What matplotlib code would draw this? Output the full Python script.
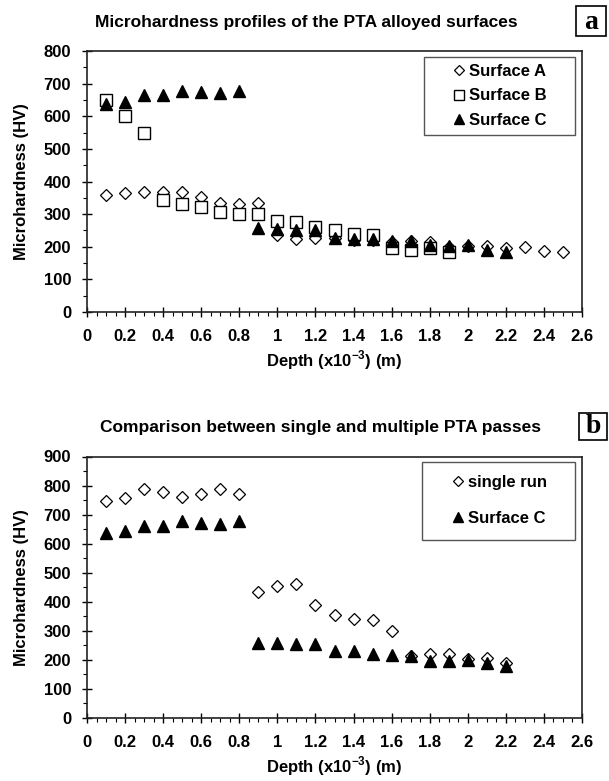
import matplotlib
matplotlib.use('Agg')
import matplotlib.pyplot as plt
from matplotlib.ticker import MultipleLocator, FuncFormatter
from matplotlib.patches import Rectangle

plt.rcParams['font.family'] = ['Liberation Sans', 'DejaVu Sans']
plt.rcParams['font.weight'] = 'bold'
plt.rcParams['mathtext.fontset'] = 'custom'
plt.rcParams['mathtext.rm'] = 'Liberation Sans:bold'
plt.rcParams['mathtext.bf'] = 'Liberation Sans:bold'

# Panel a data
depth_a = [0.1, 0.2, 0.3, 0.4, 0.5, 0.6, 0.7, 0.8, 0.9, 1.0, 1.1, 1.2, 1.3,
           1.4, 1.5, 1.6, 1.7, 1.8, 1.9, 2.0, 2.1, 2.2, 2.3, 2.4, 2.5]
surf_a = [358, 365, 368, 368, 368, 352, 334, 331, 334, 235, 225, 228, 228,
          221, 222, 214, 217, 215, 200, 203, 203, 195, 200, 188, 185]
depth_b = [0.1, 0.2, 0.3, 0.4, 0.5, 0.6, 0.7, 0.8, 0.9, 1.0, 1.1, 1.2, 1.3,
           1.4, 1.5, 1.6, 1.7, 1.8, 1.9]
surf_b = [649, 600, 549, 342, 331, 321, 306, 300, 300, 278, 275, 262, 250,
          240, 235, 197, 191, 195, 185]
depth_c = [0.1, 0.2, 0.3, 0.4, 0.5, 0.6, 0.7, 0.8, 0.9, 1.0, 1.1, 1.2, 1.3,
           1.4, 1.5, 1.6, 1.7, 1.8, 1.9, 2.0, 2.1, 2.2]
surf_c_a = [639, 643, 664, 664, 678, 675, 672, 678, 256, 253, 250, 250, 228,
            225, 225, 218, 218, 205, 201, 205, 191, 184]

# Panel b data
depth_single = [0.1, 0.2, 0.3, 0.4, 0.5, 0.6, 0.7, 0.8, 0.9, 1.0, 1.1, 1.2,
                1.3, 1.4, 1.5, 1.6, 1.7, 1.8, 1.9, 2.0, 2.1, 2.2]
single_run = [747, 758, 789, 779, 761, 770, 789, 770, 434, 453, 461, 390,
              353, 340, 336, 301, 214, 220, 220, 203, 205, 189]
surf_c_b = [638, 644, 662, 662, 678, 671, 668, 678, 258, 258, 253, 253, 229,
            229, 220, 216, 212, 197, 197, 199, 188, 179]

xticks = [0, 0.2, 0.4, 0.6, 0.8, 1.0, 1.2, 1.4, 1.6, 1.8, 2.0, 2.2, 2.4, 2.6]

W, H = 609.0, 781.0
fig = plt.figure(figsize=(6.09, 7.81), dpi=100)
ax1 = fig.add_axes([87 / W, 1 - 312 / H, 495 / W, 261 / H])
ax2 = fig.add_axes([87 / W, 1 - 718 / H, 495 / W, 261.5 / H])


def fmt_x(v, pos):
    return '%g' % round(v, 2)


def style_axis(ax, ymax):
    ax.set_xlim(0, 2.6)
    ax.set_ylim(0, ymax)
    ax.set_xticks(xticks)
    ax.xaxis.set_major_formatter(FuncFormatter(fmt_x))
    ax.xaxis.set_minor_locator(MultipleLocator(0.05))
    ax.yaxis.set_major_locator(MultipleLocator(100))
    ax.yaxis.set_minor_locator(MultipleLocator(50))
    ax.tick_params(axis='both', which='major', direction='inout', length=7,
                   width=1, labelsize=12, colors='black')
    ax.tick_params(axis='y', which='major', pad=8)
    ax.tick_params(axis='x', which='major', pad=9)
    ax.tick_params(axis='both', which='minor', direction='out', length=3,
                   width=0.8)
    for lab in ax.get_xticklabels() + ax.get_yticklabels():
        lab.set_fontweight('bold')
    for sp in ax.spines.values():
        sp.set_linewidth(1.2)
        sp.set_color('#222222')
    ax.set_ylabel('Microhardness (HV)', fontsize=12, fontweight='bold')
    ax.yaxis.label.set_va('center')
    ax.yaxis.set_label_coords(-65 / 495, 0.5)
    ax.set_xlabel('Depth (x10$^{-3}$) (m)', fontsize=12, fontweight='bold')
    ax.xaxis.label.set_va('center')
    ax.xaxis.set_label_coords(0.5, -48 / 261)


def framed_legend(ax, box, spacing):
    # box = (left, top, right, bottom) in figure pixels
    l, t, r, b = box
    x0 = (l - 87) / 495
    x1 = (r - 87) / 495
    bot_px = 312 if ax is ax1 else 718
    y0 = (bot_px - b) / 261
    y1 = (bot_px - t) / 261
    ax.add_patch(Rectangle((x0, y0), x1 - x0, y1 - y0,
                           transform=ax.transAxes, fill=False,
                           edgecolor='#555555', linewidth=1.0, zorder=5))
    leg = ax.legend(loc='center', bbox_to_anchor=((x0 + x1) / 2, (y0 + y1) / 2),
                    frameon=False, prop={'weight': 'bold', 'size': 12},
                    handletextpad=0.15, borderpad=0, labelspacing=spacing,
                    handlelength=0.9, borderaxespad=0, markerscale=0.85)
    return leg


ax1.plot(depth_a, surf_a, linestyle='none', marker='D', markersize=6,
         markerfacecolor='white', markeredgecolor='black',
         markeredgewidth=0.9, label='Surface A')
ax1.plot(depth_b, surf_b, linestyle='none', marker='s', markersize=8.5,
         markerfacecolor='white', markeredgecolor='black',
         markeredgewidth=1.0, label='Surface B')
ax1.plot(depth_c, surf_c_a, linestyle='none', marker='^', markersize=8.5,
         markerfacecolor='black', markeredgecolor='black',
         label='Surface C')
style_axis(ax1, 800)
framed_legend(ax1, (424, 57, 575, 135), 0.55)

ax2.plot(depth_single, single_run, linestyle='none', marker='D',
         markersize=6, markerfacecolor='white', markeredgecolor='black',
         markeredgewidth=0.9, label='single run')
ax2.plot(depth_c, surf_c_b, linestyle='none', marker='^', markersize=8.5,
         markerfacecolor='black', markeredgecolor='black',
         label='Surface C')
style_axis(ax2, 900)
framed_legend(ax2, (422, 462, 575, 540), 1.27)

# titles
fig.text(306 / W, 1 - 27 / H,
         'Microhardness profiles of the PTA alloyed surfaces',
         ha='center', va='baseline', fontsize=12.5, fontweight='bold')
fig.text(321 / W, 1 - 432 / H,
         'Comparison between single and multiple PTA passes',
         ha='center', va='baseline', fontsize=12.5, fontweight='bold')

# panel letters in boxes
for letter, (l, t, r, b), fs in (('a', (576, 6, 606, 36), 20),
                                 ('b', (579, 413, 607, 440), 20)):
    fig.patches.append(Rectangle((l / W, 1 - b / H), (r - l) / W, (b - t) / H,
                                 transform=fig.transFigure, fill=False,
                                 edgecolor='black', linewidth=1.2))
    fig.text((l + r) / 2 / W, 1 - (b - 7) / H, letter, ha='center',
             va='baseline', fontsize=fs, fontweight='bold',
             family=['Liberation Serif', 'DejaVu Serif'])

fig.savefig('out.png', dpi=100)
